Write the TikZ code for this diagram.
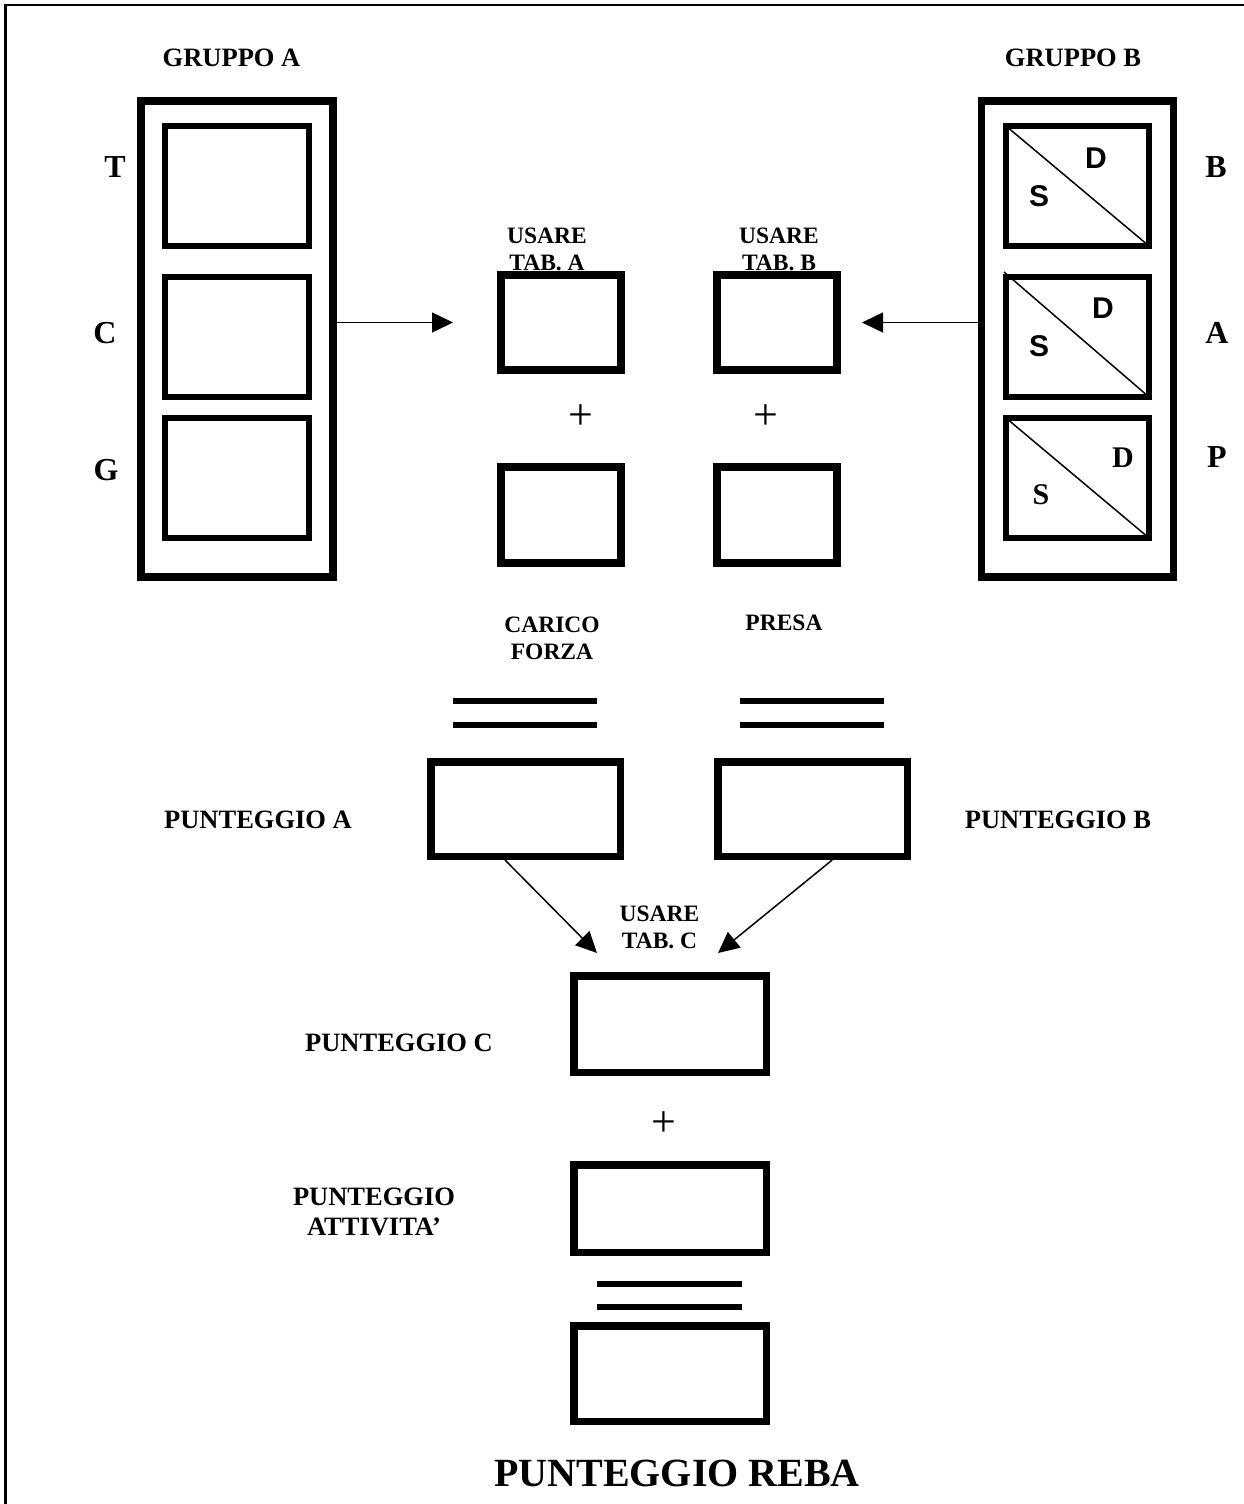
\documentclass[tikz,border=0pt]{standalone}
\usepackage{fontspec}
\setmainfont{Liberation Serif}
\newfontfamily\arialfont{Liberation Sans}
\usetikzlibrary{arrows.meta,calc}
\begin{document}
\begin{tikzpicture}[x=1pt,y=-1pt,
  lblA/.style={font=\bfseries\fontsize{26.5}{30}\selectfont, inner sep=0, align=center},
  lblB/.style={font=\bfseries\fontsize{23.5}{27}\selectfont, inner sep=0, align=center},
  side/.style={font=\bfseries\fontsize{32}{32}\selectfont, inner sep=0},
  sdsans/.style={font=\arialfont\bfseries\fontsize{30}{30}\selectfont, inner sep=0},
  sdserif/.style={font=\bfseries\fontsize{30}{30}\selectfont, inner sep=0},
  plussign/.style={font=\fontsize{44}{44}\selectfont, inner sep=0},
  grp/.style={draw, line width=7.5pt, inner sep=0, minimum width=192pt, minimum height=476pt},
  cell/.style={draw, line width=6pt, inner sep=0, outer sep=0, minimum width=144pt, minimum height=120pt},
  sbox/.style={draw, line width=7.5pt, inner sep=0},
  eqline/.style={line width=5.5pt},
  diag/.style={line width=1.5pt},
  conn/.style={line width=1.5pt, -{Triangle[length=21pt,width=20pt]}},
]
\useasboundingbox (0,0) rectangle (1244,1504);
% frame
\draw[line width=2.5pt] (5.5,1504) -- (5.5,5) -- (1244,5);

% group A
\node[grp] (ga) at (237,339) {};
\node[cell] (a1) at (237,186) {};
\node[cell] (a2) at (237,337) {};
\node[cell] (a3) at (237,478) {};
\node[lblA] (gra) at (231.5,58) {GRUPPO A};
\node[side] (lt) at (115,167) {T};
\node[side] (lc) at (105,333) {C};
\node[side] (lg) at (106,470) {G};

% group B
\node[grp] (gb) at (1077.5,339) {};
\node[cell, minimum width=143pt] (b1) at (1077.5,186) {};
\node[cell, minimum width=143pt] (b2) at (1077.5,337) {};
\node[cell, minimum width=143pt] (b3) at (1077.5,478) {};
\draw[diag] (b1.north west) -- (b1.south east);
\draw[diag] ($(b2.north west)+(-2,-5)$) -- (b2.south east);
\draw[diag] (b3.north west) -- (b3.south east);
\node[lblA] (grb) at (1073,58) {GRUPPO B};
\node[side] (lb) at (1216,167) {B};
\node[side] (lab) at (1217,333) {A};
\node[side] (lp) at (1217,457) {P};
\node[sdsans] (d1) at (1096,158) {D};
\node[sdsans] (s1) at (1039,196) {S};
\node[sdsans] (d2) at (1103,308) {D};
\node[sdsans] (s2) at (1039,346) {S};
\node[sdserif] (d3) at (1123,458) {D};
\node[sdserif] (s3) at (1041,495) {S};

% middle boxes
\node[sbox, minimum width=120pt, minimum height=95pt] (ua) at (561,322.5) {};
\node[sbox, minimum width=120pt, minimum height=95pt] (ub) at (777,322.5) {};
\node[sbox, minimum width=120pt, minimum height=96pt] (la) at (561,515) {};
\node[sbox, minimum width=120pt, minimum height=96pt] (lb2) at (777,515) {};
\node[lblB] (ta) at (547,249) {USARE\\TAB. A};
\node[lblB] (tb) at (779,249) {USARE\\TAB. B};
\node[plussign] (p1) at (581,417) {+};
\node[plussign] (p2) at (766,417) {+};

\coordinate (tipA) at (453,322.5);
\coordinate (tipB) at (862,322.5);
\draw[conn] (ga.east |- ua.west) -- (tipA);
\draw[conn] (gb.west |- ub.east) -- (tipB);

% carico / presa
\node[lblB] (car) at (552,638) {CARICO\\FORZA};
\node[lblB] (pre) at (784,623) {PRESA};
\draw[eqline] (453,701) -- (597,701);
\draw[eqline] (453,725) -- (597,725);
\draw[eqline] (740,701) -- (884,701);
\draw[eqline] (740,725) -- (884,725);

\node[sbox, minimum width=189.5pt, minimum height=94.5pt] (pa) at (525.5,809) {};
\node[sbox, minimum width=189.5pt, minimum height=94.5pt] (pb) at (812.5,809) {};
\node[lblA] (pta) at (258,820) {PUNTEGGIO A};
\node[lblA] (ptb) at (1058,820) {PUNTEGGIO B};

\coordinate (tipC1) at (597,953);
\coordinate (tipC2) at (718,953);
\draw[conn] ($(pa.south west)!0.396!(pa.south east)$) -- (tipC1);
\draw[conn] ($(pb.south west)!0.6!(pb.south east)$) -- (tipC2);
\node[lblB] (tc) at (659.5,927) {USARE\\TAB. C};

% bottom column
\node[sbox, minimum width=192.5pt, minimum height=96.5pt] (pc) at (670,1024) {};
\node[lblA] (ptc) at (399,1043) {PUNTEGGIO C};
\node[plussign] (p3) at (664,1124) {+};
\node[sbox, minimum width=192.5pt, minimum height=87.5pt] (pd) at (670,1208.5) {};
\node[lblA] (ptd) at (374,1212) {PUNTEGGIO\\ATTIVITA’};
\draw[eqline] (597,1284) -- (742,1284);
\draw[eqline] (597,1307) -- (742,1307);
\node[sbox, minimum width=192.5pt, minimum height=95.5pt] (pr) at (670,1373.5) {};
\node[font=\bfseries\fontsize{40}{40}\selectfont, inner sep=0] (reba) at (677,1473) {PUNTEGGIO REBA};
\end{tikzpicture}
\end{document}
